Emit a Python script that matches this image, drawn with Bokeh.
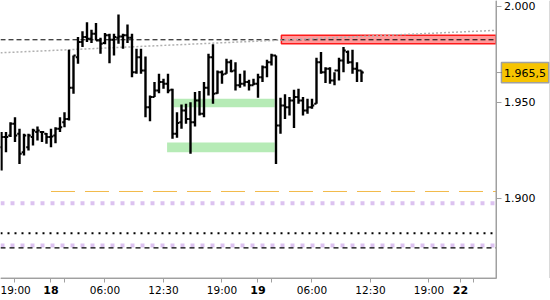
from bokeh.plotting import figure
from bokeh.models import FixedTicker, Range1d
from bokeh.core.properties import value
from bokeh.embed import file_html
from bokeh.resources import INLINE

# ---- data -------------------------------------------------------------
slots = list(range(81))
high = [1934.4, 1934.4, 1939.6, 1942.2, 1936.1, 1933.5, 1933.5, 1936.1, 1937.3, 1934.9,
        1933.9, 1936.1, 1937.0, 1942.2, 1944.8, 1977.4, 1974.4, 1984.0, 1987.1, 1991.8,
        1987.8, 1991.3, 1983.6, 1986.2, 1985.7, 1985.7, 1995.8, 1985.7, 1990.6, 1985.7,
        1977.9, 1977.9, 1973.9, 1953.5, 1960.5, 1964.8, 1962.2, 1964.8, 1957.0, 1944.8,
        1948.8, 1949.2, 1950.0, 1955.3, 1955.8, 1960.5, 1975.3, 1980.2, 1966.6, 1966.6,
        1972.7, 1972.2, 1970.9, 1964.8, 1966.6, 1961.7, 1962.2, 1964.8, 1969.2, 1972.2,
        1975.3, 1974.4, 1952.3, 1954.1, 1952.7, 1956.5, 1957.0, 1952.7, 1951.8, 1951.8,
        1973.2, 1976.2, 1968.3, 1968.3, 1965.7, 1973.2, 1978.8, 1977.0, 1977.4, 1970.9,
        1966.6]
low = [1914.4, 1923.9, 1931.8, 1929.2, 1917.8, 1922.2, 1924.8, 1927.4, 1930.0, 1929.2,
       1928.3, 1926.5, 1928.6, 1934.4, 1937.0, 1940.5, 1954.4, 1970.1, 1978.8, 1981.4,
       1980.9, 1982.2, 1975.3, 1980.2, 1970.4, 1974.4, 1980.5, 1977.9, 1980.9, 1963.1,
       1964.8, 1964.8, 1942.2, 1940.1, 1952.7, 1954.7, 1957.0, 1954.7, 1930.9, 1931.4,
       1936.1, 1938.7, 1923.1, 1937.3, 1943.1, 1942.2, 1953.5, 1949.2, 1954.4, 1959.6,
       1964.8, 1965.7, 1956.1, 1957.5, 1958.2, 1956.1, 1958.8, 1952.3, 1960.5, 1963.1,
       1969.2, 1917.8, 1933.5, 1941.3, 1943.1, 1936.6, 1949.2, 1943.1, 1944.0, 1946.6,
       1949.2, 1964.8, 1960.0, 1959.6, 1958.8, 1961.4, 1965.7, 1970.1, 1964.8, 1960.5,
       1960.5]
open_ = [1926.5, 1931.8, 1932.6, 1938.7, 1933.5, 1923.9, 1926.5, 1931.8, 1934.4, 1934.4,
         1933.5, 1931.8, 1932.6, 1936.1, 1939.6, 1941.3, 1957.5, 1973.5, 1981.4, 1984.0,
         1983.1, 1985.7, 1982.2, 1980.9, 1984.9, 1982.6, 1983.6, 1984.3, 1984.9, 1983.6,
         1965.7, 1973.5, 1966.6, 1947.4, 1952.7, 1956.1, 1960.5, 1959.6, 1956.5, 1933.5,
         1939.6, 1945.7, 1941.3, 1939.6, 1950.9, 1944.0, 1957.5, 1973.5, 1954.7, 1965.7,
         1964.8, 1970.9, 1966.6, 1958.8, 1959.6, 1960.5, 1958.8, 1959.6, 1963.1, 1968.3,
         1970.9, 1974.4, 1937.9, 1948.3, 1947.4, 1950.9, 1952.7, 1950.9, 1945.7, 1947.4,
         1949.2, 1970.9, 1965.7, 1967.5, 1961.4, 1966.6, 1971.8, 1976.2, 1970.9, 1967.5,
         1966.6]
close = [1931.8, 1931.8, 1938.7, 1932.6, 1923.1, 1932.6, 1932.6, 1935.3, 1935.3, 1934.4,
         1931.8, 1932.1, 1936.1, 1937.0, 1941.3, 1957.5, 1974.4, 1981.4, 1984.0, 1983.1,
         1985.7, 1982.2, 1980.5, 1984.9, 1982.6, 1984.0, 1984.3, 1984.9, 1983.6, 1965.7,
         1973.5, 1966.6, 1947.4, 1952.7, 1956.1, 1960.5, 1959.6, 1956.1, 1933.5, 1939.1,
         1945.7, 1941.3, 1939.6, 1950.9, 1944.0, 1957.5, 1973.5, 1954.4, 1965.7, 1964.5,
         1970.9, 1966.2, 1958.8, 1959.6, 1960.5, 1958.8, 1959.6, 1963.1, 1968.3, 1970.9,
         1974.4, 1937.9, 1948.3, 1947.4, 1950.9, 1952.7, 1950.9, 1945.7, 1947.4, 1948.3,
         1970.9, 1965.7, 1967.5, 1961.4, 1966.6, 1971.8, 1977.0, 1970.9, 1967.5, 1966.6,
         1965.5]

tick_slots = [3, 11, 23, 36, 49, 57, 69, 82, 95, 102]
tick_labels = ["19:00", "18", "06:00", "12:30", "19:00", "19", "06:00", "12:30", "19:00", "22"]
day_labels = ["18", "19", "22"]
minor_slots = [14, 60, 105]

price_ticks = [1900, 1950, 2000]
price_labels = ["1.900", "1.950", "2.000"]
last_price = 1965.5
last_label = "1.965,5"

# view window (whole canvas) and where the axes sit inside it
x_limits = [-0.22, 122.0]
y_limits = [1846.5, 2003.1]
axis_x = 109.89         # right price axis
axis_y = 1858.22        # bottom time axis
day_label_y = 1852.2
box_x = [111.1, 121.6]  # price tag box (left, right)
box_half = 5.3
edge_x = 121.89         # thin border at far right

resistance_level = 1982.6
trend_x = [-0.22, 109.7]
trend_y = [1975.8, 1987.5]
red_left, red_bottom, red_top = 62.2, 1980.5, 1985.0
green_left = [38.2, 36.8]
green_right = [60.7, 60.7]
green_bottom = [1947.4, 1923.9]
green_top = [1951.8, 1929.0]
orange_level, orange_start = 1903.4, 11
lavender_levels = [1897.3, 1875.2]
black_dotted_level = 1881.6
black_dashed_level = 1874.0

FONT = "DejaVu Sans"
AXIS_GREY = "#a0a0a0"

# ---- figure -----------------------------------------------------------
p = figure(width=550, height=300, output_backend="svg", toolbar_location=None,
           y_axis_location="right",
           x_range=Range1d(*x_limits), y_range=Range1d(*y_limits),
           min_border=0)
p.outline_line_color = None
p.grid.visible = False
p.background_fill_color = "white"
p.border_fill_color = "white"

x0 = x_limits[0]

# zones
p.quad(left=green_left, right=green_right, bottom=green_bottom, top=green_top,
       fill_color="#b6ebb6", line_color=None)
p.quad(left=[red_left], right=[axis_x], bottom=[red_bottom], top=[red_top],
       fill_color="#ff9a9a", line_color="#ff1a1a", line_width=1.5)

# horizontal levels
for lv in lavender_levels:
    p.segment(x0=[x0], y0=[lv], x1=[axis_x], y1=[lv], line_color="#dcc2f0",
              line_width=4, line_dash="4 6")
p.segment(x0=[x0], y0=[black_dotted_level], x1=[axis_x], y1=[black_dotted_level],
          line_color="black", line_width=2, line_dash="2 5")
p.segment(x0=[x0], y0=[black_dashed_level], x1=[axis_x], y1=[black_dashed_level],
          line_color="black", line_width=1.2, line_dash="5 4")
p.segment(x0=[x0], y0=[resistance_level], x1=[axis_x], y1=[resistance_level],
          line_color="black", line_width=1, line_dash="5 3")
p.segment(x0=[orange_start], y0=[orange_level], x1=[axis_x], y1=[orange_level],
          line_color="#f2bb4a", line_width=1, line_dash="24 10")
p.line(x=trend_x, y=trend_y, line_color="#b0b0b0", line_width=1.5, line_dash="2 2")

# OHLC bars
p.segment(x0=slots, y0=low, x1=slots, y1=high, line_color="black", line_width=2.4)
p.segment(x0=[s - 0.5 for s in slots], y0=open_, x1=slots, y1=open_,
          line_color="black", line_width=2)
p.segment(x0=slots, y0=close, x1=[s + 0.5 for s in slots], y1=close,
          line_color="black", line_width=2)

# axis rules and frame edge as plain lines
p.line(x=[x0, axis_x, axis_x], y=[axis_y, axis_y, y_limits[1]],
       line_color=AXIS_GREY, line_width=1)
p.line(x=[edge_x, edge_x], y=[axis_y, y_limits[1]], line_color="#b4b4b4", line_width=1)

# x axis (time), fixed inside the canvas
xa = p.xaxis[0]
xa.fixed_location = axis_y
xa.bounds = (x0, axis_x)
xa.ticker = FixedTicker(ticks=tick_slots, minor_ticks=minor_slots)
xa.major_label_overrides = {t: ("" if l in day_labels else l) for t, l in zip(tick_slots, tick_labels)}
xa.axis_line_color = AXIS_GREY
xa.major_tick_line_color = AXIS_GREY
xa.minor_tick_line_color = AXIS_GREY
xa.major_tick_out = 4
xa.major_tick_in = 0
xa.minor_tick_out = 4
xa.minor_tick_in = 0
xa.major_label_standoff = 2
xa.major_label_text_font = FONT
xa.major_label_text_font_size = "10.5px"
xa.major_label_text_color = "black"

day_x = [t for t, l in zip(tick_slots, tick_labels) if l in day_labels]
day_txt = [l for l in tick_labels if l in day_labels]
p.text(x=day_x, y=[day_label_y] * len(day_x), text=day_txt,
       text_font=value(FONT), text_font_size="11px", text_font_style="bold",
       text_align="center", text_baseline="middle", text_color="black")

# y axis (price), fixed inside the canvas
ya = p.yaxis[0]
ya.fixed_location = axis_x
ya.bounds = (axis_y, y_limits[1])
ya.ticker = FixedTicker(ticks=price_ticks + [last_price], minor_ticks=[])
overrides = {t: l for t, l in zip(price_ticks, price_labels)}
overrides[last_price] = ""
ya.major_label_overrides = overrides
ya.axis_line_color = AXIS_GREY
ya.major_tick_line_color = AXIS_GREY
ya.major_tick_out = 5
ya.major_tick_in = 0
ya.minor_tick_line_color = None
ya.major_label_standoff = 3
ya.major_label_text_font = FONT
ya.major_label_text_font_size = "11px"
ya.major_label_text_color = "black"

# last price tag
p.quad(left=[box_x[0]], right=[box_x[1]], bottom=[last_price - box_half], top=[last_price + box_half],
       fill_color="#f7c400", line_color=AXIS_GREY, line_width=1.5)
p.segment(x0=[axis_x], y0=[last_price], x1=[box_x[0]], y1=[last_price],
          line_color="black", line_width=1)
p.text(x=[(box_x[0] + box_x[1]) / 2], y=[last_price], text=[last_label],
       text_font=value(FONT), text_font_size="11px", text_align="center",
       text_baseline="middle", text_color="black")

open("out.html", "w").write(file_html(p, INLINE))
